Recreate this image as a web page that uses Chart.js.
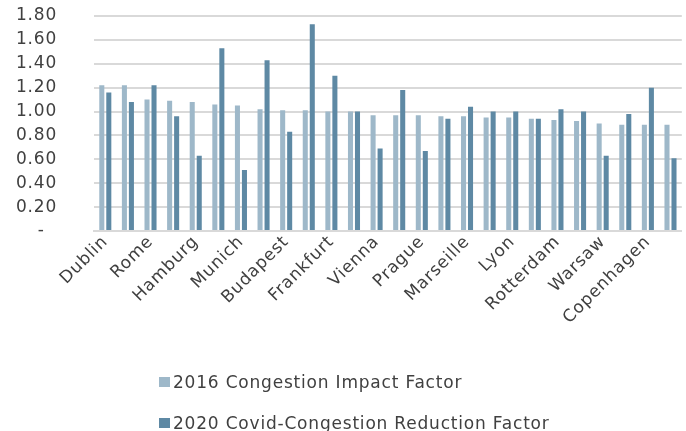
<!DOCTYPE html>
<html>
<head>
<meta charset="utf-8">
<script src="https://cdn.jsdelivr.net/npm/chart.js@4/dist/chart.umd.min.js"></script>
<style>
  html, body { margin: 0; padding: 0; background: #ffffff; overflow: hidden; }
  #wrap { position: relative; width: 686px; height: 431px; }
  #legend { position: absolute; left: 159px; top: 372px; font: 17px "DejaVu Sans", sans-serif; letter-spacing: 0.8px; color: #404040; }
  .item { display: flex; align-items: center; height: 20px; margin-bottom: 21px; white-space: nowrap; }
  .sw { width: 11px; height: 10px; margin-right: 3px; flex: none; }
</style>
</head>
<body>
<div id="wrap">
  <canvas id="c" width="686" height="431"></canvas>
  <div id="legend"></div>
</div>
<script>
// Cities, in ranking order (every other name is printed on the axis)
const cities = [
  "Dublin", "Bucharest", "Rome", "Paris", "Hamburg", "London", "Munich", "Milan",
  "Budapest", "Berlin", "Frankfurt", "Brussels", "Vienna", "Stuttgart", "Prague", "Madrid",
  "Marseille", "Barcelona", "Lyon", "Lisbon", "Rotterdam", "Amsterdam", "Warsaw", "Stockholm",
  "Copenhagen", "Oslo"
];

// 2016 congestion impact factor per city
const impact2016 = [
  1.22, 1.22, 1.10, 1.09, 1.08, 1.06, 1.05, 1.02,
  1.01, 1.01, 1.00, 1.00, 0.97, 0.97, 0.97, 0.96,
  0.96, 0.95, 0.95, 0.94, 0.93, 0.92, 0.90, 0.89,
  0.89, 0.89
];

// 2020 covid congestion reduction factor per city
const covid2020 = [
  1.16, 1.08, 1.22, 0.96, 0.63, 1.53, 0.51, 1.43,
  0.83, 1.73, 1.30, 1.00, 0.69, 1.18, 0.67, 0.94,
  1.04, 1.00, 1.00, 0.94, 1.02, 1.00, 0.63, 0.98,
  1.20, 0.61
];

// Value axis range and step
const yMin = 0;
const yMax = 1.8;
const yStep = 0.2;

const seriesNames = ["2016 Congestion Impact Factor", "2020 Covid-Congestion Reduction Factor"];
const seriesColors = ["#9eb8c9", "#5e89a4"];

const font = { family: '"DejaVu Sans", sans-serif', size: 17 };
const textColor = "#404040";
const gridColor = "#d9d9d9";

// Slightly open letter spacing for all canvas text
const spacing = {
  id: "spacing",
  beforeLayout(c) { c.ctx.letterSpacing = "0.8px"; },
  beforeDraw(c) { c.ctx.letterSpacing = "0.8px"; }
};

const chart = new Chart(document.getElementById("c"), {
  type: "bar",
  data: {
    labels: cities,
    datasets: [
      { label: seriesNames[0], data: impact2016, backgroundColor: seriesColors[0] },
      { label: seriesNames[1], data: covid2020, backgroundColor: seriesColors[1] }
    ]
  },
  plugins: [spacing],
  options: {
    responsive: false,
    animation: false,
    devicePixelRatio: 1,
    categoryPercentage: 0.62,
    barPercentage: 0.72,
    layout: { padding: { top: 16, right: 4, left: 0, bottom: 0 } },
    plugins: {
      legend: { display: false },
      tooltip: { enabled: false }
    },
    scales: {
      x: {
        grid: { display: false, drawTicks: false },
        border: { color: gridColor, width: 2 },
        ticks: {
          autoSkip: false,
          maxRotation: 45,
          minRotation: 45,
          padding: 1,
          color: textColor,
          font: font,
          callback: function (v, i) { return i % 2 === 0 ? this.getLabelForValue(v) : ""; }
        },
        afterFit: (s) => { s.height = 200; }
      },
      y: {
        min: yMin,
        max: yMax,
        grid: { color: gridColor, lineWidth: 2, drawTicks: false },
        border: { display: false },
        ticks: {
          autoSkip: false,
          stepSize: yStep,
          padding: 37,
          color: textColor,
          font: font,
          callback: (v) => Math.abs(v) < 1e-9 ? "-  " : v.toFixed(2)
        },
        afterFit: (s) => {
          s.width = 94;
          // the wide label gap should not push the plot area down
          s.paddingTop = 8;
          s.paddingBottom = 8;
        }
      }
    }
  }
});

// Legend, stacked at the bottom left
const legend = document.getElementById("legend");
chart.data.datasets.forEach((ds) => {
  const row = document.createElement("div");
  row.className = "item";
  const sw = document.createElement("span");
  sw.className = "sw";
  sw.style.background = ds.backgroundColor;
  const txt = document.createElement("span");
  txt.textContent = ds.label;
  row.appendChild(sw);
  row.appendChild(txt);
  legend.appendChild(row);
});
</script>
</body>
</html>
